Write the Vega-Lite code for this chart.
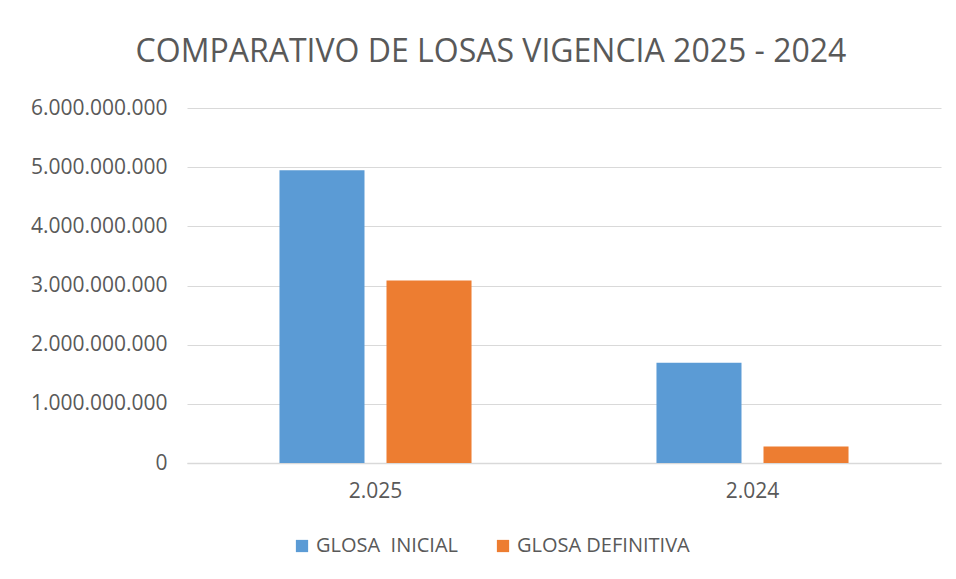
{
  "$schema": "https://vega.github.io/schema/vega-lite/v6.json",
  "width": 754,
  "height": 355,
  "autosize": {"type": "none"},
  "padding": {"left": 187, "top": 108, "right": 15, "bottom": 116},
  "background": "white",
  "title": {
    "text": "COMPARATIVO DE LOSAS VIGENCIA 2025 - 2024",
    "anchor": "middle",
    "dx": -73,
    "offset": 28,
    "fontSize": 32,
    "font": "Open Sans",
    "fontWeight": "normal",
    "color": "#595959"
  },
  "data": {
    "values": [
      {"vigencia": "2.025", "serie": "GLOSA  INICIAL", "valor": 4950000000},
      {"vigencia": "2.025", "serie": "GLOSA DEFINITIVA", "valor": 3085000000},
      {"vigencia": "2.024", "serie": "GLOSA  INICIAL", "valor": 1695000000},
      {"vigencia": "2.024", "serie": "GLOSA DEFINITIVA", "valor": 280000000}
    ]
  },
  "mark": {"type": "bar"},
  "encoding": {
    "x": {
      "field": "vigencia",
      "type": "nominal",
      "sort": ["2.025", "2.024"],
      "scale": {"paddingInner": 0, "paddingOuter": 0},
      "axis": {
        "title": null,
        "labelAngle": 0,
        "labelFont": "Open Sans",
        "labelFontSize": 21,
        "labelColor": "#595959",
        "labelPadding": 17,
        "ticks": false,
        "domainColor": "#D9D9D9",
        "domainWidth": 1.5
      }
    },
    "xOffset": {
      "field": "serie",
      "type": "nominal",
      "sort": ["GLOSA  INICIAL", "GLOSA DEFINITIVA"],
      "scale": {"paddingInner": 0.2056, "paddingOuter": 0.864}
    },
    "y": {
      "field": "valor",
      "type": "quantitative",
      "scale": {"domain": [0, 6000000000], "nice": false},
      "axis": {
        "title": null,
        "values": [0, 1000000000, 2000000000, 3000000000, 4000000000, 5000000000, 6000000000],
        "labelExpr": "replace(format(datum.value, ',.0f'), /,/g, '.')",
        "labelFont": "Open Sans",
        "labelFontSize": 21,
        "labelColor": "#595959",
        "labelPadding": 20,
        "ticks": false,
        "domain": false,
        "gridColor": "#D9D9D9",
        "gridWidth": 1.2
      }
    },
    "color": {
      "field": "serie",
      "type": "nominal",
      "sort": ["GLOSA  INICIAL", "GLOSA DEFINITIVA"],
      "scale": {"domain": ["GLOSA  INICIAL", "GLOSA DEFINITIVA"], "range": ["#5B9BD5", "#ED7D31"]},
      "legend": {
        "title": null,
        "orient": "none",
        "direction": "horizontal",
        "legendX": 105,
        "legendY": 428,
        "symbolType": "square",
        "symbolSize": 150,
        "symbolStrokeWidth": 0,
        "labelFont": "Open Sans",
        "labelFontSize": 20,
        "labelColor": "#595959",
        "labelLimit": 400,
        "labelExpr": "replace(datum.label, '  ', '\u00a0\u00a0')",
        "columnPadding": 34,
        "labelOffset": 4
      }
    }
  },
  "config": {
    "view": {"stroke": null}
  }
}
